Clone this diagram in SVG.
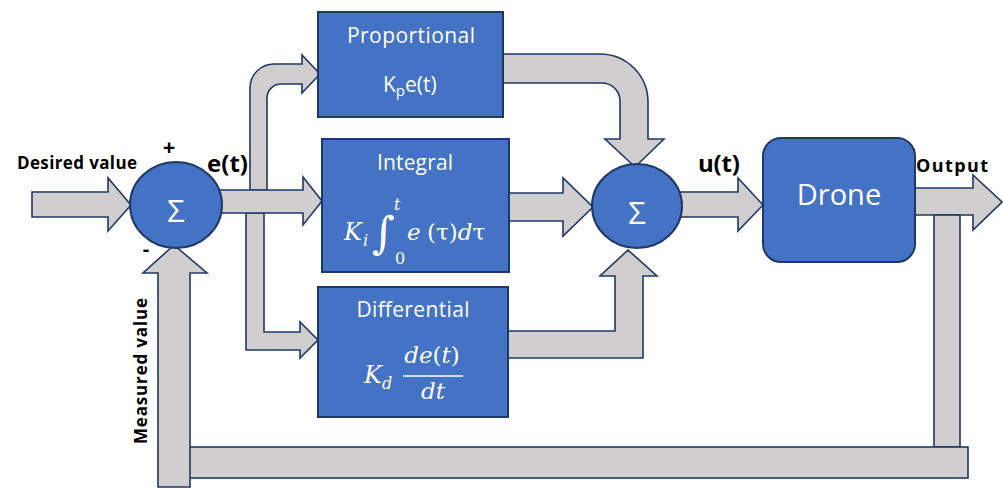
<svg xmlns="http://www.w3.org/2000/svg" width="1003" height="490" viewBox="0 0 1003 490">
<style>
.arr{fill:#D0CECE;stroke:#1F3864;stroke-width:1.6;stroke-linejoin:miter}
.box{fill:#4472C4;stroke:#1F3864;stroke-width:2}
.wt{fill:#FFFFFF;font-family:"Open Sans","Liberation Sans",sans-serif}
.lbl{fill:#000000;font-family:"Open Sans","Liberation Sans",sans-serif;font-weight:bold}
.math{fill:#FFFFFF;font-family:"DejaVu Serif","Liberation Serif",serif;font-style:italic}
.mathn{fill:#FFFFFF;font-family:"DejaVu Serif","Liberation Serif",serif}
</style>
<rect width="1003" height="490" fill="#FFFFFF"/>
<g id="connectors">
  <path class="arr" d="M32,192 L108,192 L108,178 L131,205 L108,231 L108,217 L32,217 Z"/>
  <path class="arr" d="M250,190 L250,88 A24,24 0 0 1 274,64 L302,64 L302,55 L320,74 L302,93 L302,84 L281,84 A14,14 0 0 0 267,98 L267,190 Z"/>
  <path class="arr" d="M246,213 L246,350 L300,350 L300,358 L318,340 L300,322 L300,332 L264,332 L264,213 Z"/>
  <path class="arr" d="M215,190 L303,190 L303,177 L322,201 L303,225 L303,213 L215,213 Z"/>
  <path class="arr" d="M503,54 L600,54 A48,48 0 0 1 648,102 L648,139 L664,139 L635,167 L605,139 L620,139 L620,101 A18,18 0 0 0 602,83 L503,83 Z"/>
  <path class="arr" d="M509,193 L563,193 L563,178 L593,207 L563,236 L563,221 L509,221 Z"/>
  <path class="arr" d="M508,331 L615,331 L615,276 L600,276 L628,250 L657,276 L643,276 L643,358 L508,358 Z"/>
  <path class="arr" d="M675,192 L738,192 L738,178 L763,205 L738,231 L738,217 L675,217 Z"/>
  <path class="arr" d="M915,188 L973,188 L973,175 L1002,202 L973,230 L973,215 L915,215 Z"/>
  <rect class="arr" x="934" y="215" width="26" height="232"/>
  <rect class="arr" x="188" y="447" width="780" height="31"/>
  <path class="arr" d="M158,487 L158,273 L143,273 L174,245 L207,273 L190,273 L190,487 Z"/>
</g>
<g id="sum1">
  <ellipse class="box" cx="176" cy="205" rx="46" ry="43"/>
  <text class="wt" x="176" y="222" font-size="31" text-anchor="middle">Σ</text>
</g>
<g id="proportional">
  <rect class="box" x="318" y="12" width="185" height="105"/>
  <text class="wt" x="411" y="43" font-size="21" text-anchor="middle" textLength="128">Proportional</text>
  <text class="wt" x="383" y="92" font-size="21">K<tspan font-size="15" dy="4">p</tspan><tspan dy="-4">e(t)</tspan></text>
</g>
<g id="integral">
  <rect class="box" x="322" y="139" width="187" height="133"/>
  <text class="wt" x="415" y="170" font-size="21" text-anchor="middle" textLength="76">Integral</text>
  <text class="math" x="344" y="240" font-size="24">K</text>
  <text class="math" x="363" y="246" font-size="16">i</text>
  <text class="mathn" x="372" y="248" font-size="44">∫</text>
  <text class="math" x="394" y="210" font-size="16">t</text>
  <text class="mathn" x="395" y="264" font-size="16">0</text>
  <text class="math" x="407" y="240" font-size="23">e</text>
  <text class="mathn" x="427" y="240" font-size="23">(τ)<tspan font-style="italic">d</tspan>τ</text>
</g>
<g id="differential">
  <rect class="box" x="318" y="287" width="190" height="130"/>
  <text class="wt" x="413" y="317" font-size="21" text-anchor="middle" textLength="113">Differential</text>
  <text class="math" x="364" y="383" font-size="24">K</text>
  <text class="math" x="382" y="389" font-size="16">d</text>
  <text class="math" x="432" y="363" font-size="23" text-anchor="middle">de<tspan font-style="normal">(</tspan>t<tspan font-style="normal">)</tspan></text>
  <line x1="403" y1="376" x2="463" y2="376" stroke="#FFFFFF" stroke-width="1.5"/>
  <text class="math" x="433" y="399" font-size="23" text-anchor="middle">dt</text>
</g>
<g id="sum2">
  <ellipse class="box" cx="637" cy="206" rx="45" ry="42"/>
  <text class="wt" x="637" y="224" font-size="31" text-anchor="middle">Σ</text>
</g>
<g id="drone">
  <rect class="box" x="763" y="138" width="152" height="124" rx="18" ry="18"/>
  <text class="wt" x="839" y="205" font-size="29" text-anchor="middle">Drone</text>
</g>
<g id="labels">
  <text class="lbl" x="17" y="169" font-size="17" textLength="120">Desired value</text>
  <text class="lbl" x="169" y="155" font-size="22" text-anchor="middle">+</text>
  <text class="lbl" x="146" y="256" font-size="20" text-anchor="middle">-</text>
  <text class="lbl" x="207" y="172" font-size="24" textLength="41">e(t)</text>
  <text class="lbl" x="698" y="172" font-size="24" textLength="42">u(t)</text>
  <text class="lbl" x="916" y="172" font-size="18" textLength="72">Output</text>
  <text class="lbl" x="0" y="0" font-size="17" text-anchor="middle" transform="translate(147,371) rotate(-90)" textLength="146">Measured value</text>
</g>
</svg>
